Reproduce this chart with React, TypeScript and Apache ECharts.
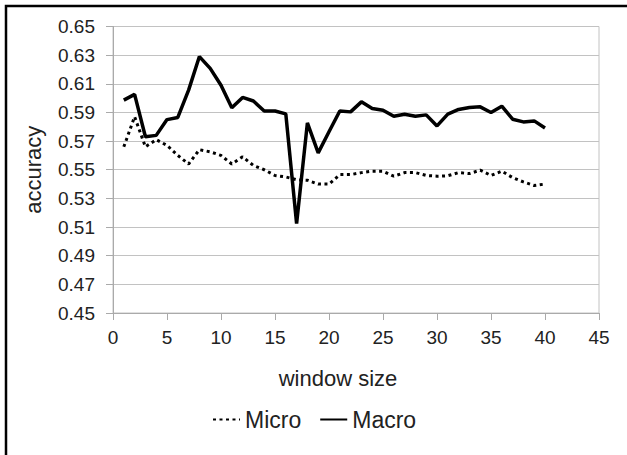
import React, { useEffect, useRef } from "react";
import * as echarts from "echarts";

const windowSize = [1, 2, 3, 4, 5, 6, 7, 8, 9, 10, 11, 12, 13, 14, 15, 16, 17, 18, 19, 20, 21, 22, 23, 24, 25, 26, 27, 28, 29, 30, 31, 32, 33, 34, 35, 36, 37, 38, 39, 40];

const micro = [0.566, 0.587, 0.566, 0.571, 0.567, 0.56, 0.554, 0.564, 0.5625, 0.56, 0.554, 0.559, 0.553, 0.55, 0.546, 0.545, 0.543, 0.5427, 0.54, 0.54, 0.5466, 0.5466, 0.548, 0.549, 0.549, 0.5455, 0.548, 0.548, 0.546, 0.5455, 0.5458, 0.548, 0.5473, 0.5497, 0.546, 0.549, 0.5445, 0.5415, 0.539, 0.54];

const macro = [0.5986, 0.6026, 0.573, 0.574, 0.585, 0.5865, 0.6056, 0.629, 0.6208, 0.609, 0.5932, 0.6005, 0.598, 0.591, 0.591, 0.589, 0.5124, 0.5827, 0.5618, 0.5765, 0.591, 0.5904, 0.5974, 0.5928, 0.5916, 0.5874, 0.5888, 0.5874, 0.5883, 0.5806, 0.5888, 0.5921, 0.5935, 0.5939, 0.59, 0.5944, 0.5853, 0.5834, 0.5841, 0.5792];

const seriesNames = ["Micro", "Macro"];
const xTitle = "window size";
const yTitle = "accuracy";

const FONT = "'Liberation Sans', Arial, sans-serif";
const TEXT = "#222222";

export default function App() {
  const ref = useRef<HTMLDivElement>(null);
  useEffect(() => {
    document.body.style.margin = "0";
    const chart = echarts.init(ref.current!, null, { renderer: "svg" });
    const toPairs = (ys: number[]) => windowSize.map((x, i) => [x, ys[i]]);
    chart.setOption({
      animation: false,
      backgroundColor: "#ffffff",
      textStyle: { fontFamily: FONT },
      graphic: [
        {
          type: "rect",
          shape: { x: 6, y: 6, width: 700, height: 600 },
          style: { fill: "none", stroke: "#000000", lineWidth: 2.5 },
          silent: true,
        },
      ],
      grid: {
        left: 113,
        top: 26.5,
        right: 28,
        bottom: 142,
        show: true,
        borderColor: "#c2c2c2",
        borderWidth: 1,
        backgroundColor: "transparent",
      },
      legend: {
        left: 212,
        top: 408,
        padding: 0,
        itemWidth: 27,
        itemHeight: 14,
        itemGap: 18,
        itemStyle: { opacity: 0 },
        textStyle: { fontSize: 23, color: TEXT, fontFamily: FONT },
        data: seriesNames,
      },
      xAxis: {
        type: "value",
        min: 0,
        max: 45,
        interval: 5,
        name: xTitle,
        nameLocation: "middle",
        nameGap: 54,
        nameTextStyle: { fontSize: 22, color: TEXT, fontFamily: FONT, padding: [0, 36, 0, 0] },
        axisLine: { show: true, lineStyle: { color: "#aaaaaa", width: 1 } },
        axisTick: { show: true, length: 7, inside: false, lineStyle: { color: "#aaaaaa" } },
        axisLabel: { fontSize: 19, color: TEXT, margin: 15, fontFamily: FONT },
        splitLine: { show: false },
      },
      yAxis: {
        type: "value",
        min: 0.45,
        max: 0.65,
        interval: 0.02,
        name: yTitle,
        nameLocation: "middle",
        nameRotate: 90,
        nameGap: 69,
        nameTextStyle: { fontSize: 22, color: TEXT, fontFamily: FONT },
        axisLine: { show: true, lineStyle: { color: "#aaaaaa", width: 1 } },
        axisTick: { show: true, length: 7, inside: false, lineStyle: { color: "#aaaaaa" } },
        axisLabel: {
          fontSize: 19,
          color: TEXT,
          margin: 18,
          fontFamily: FONT,
          formatter: (v: number) => v.toFixed(2),
        },
        splitLine: { show: true, lineStyle: { color: "#c2c2c2", width: 1 } },
      },
      series: [
        {
          name: seriesNames[0],
          type: "line",
          data: toPairs(micro),
          symbol: "none",
          lineStyle: { color: "#000000", width: 3, type: [3, 3.5], cap: "butt" },
          itemStyle: { color: "#000000" },
        },
        {
          name: seriesNames[1],
          type: "line",
          data: toPairs(macro),
          symbol: "none",
          lineStyle: { color: "#000000", width: 3.5, type: "solid" },
          itemStyle: { color: "#000000" },
        },
      ],
    });
    return () => chart.dispose();
  }, []);
  return (
    <div
      ref={ref}
      style={{ position: "absolute", left: 0, top: 0, width: 627, height: 455 }}
    />
  );
}
